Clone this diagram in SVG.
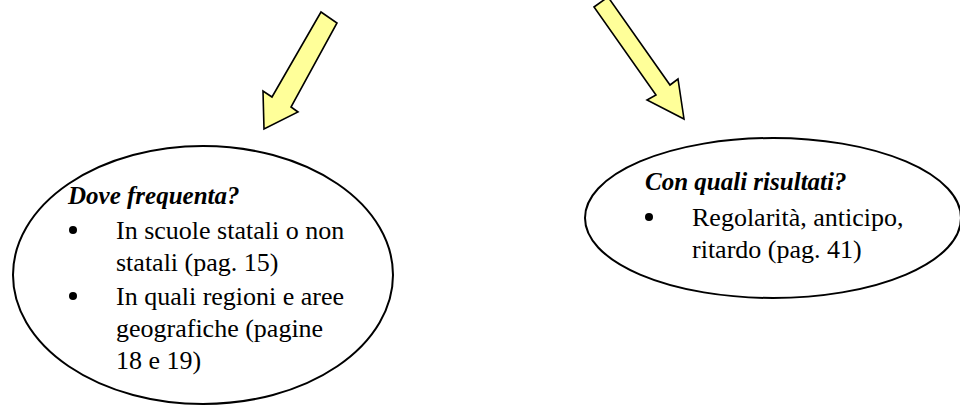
<svg xmlns="http://www.w3.org/2000/svg" width="960" height="406" viewBox="0 0 960 406">
<style>
.arrow{fill:#FFFF99;stroke:#000;stroke-width:1.6;stroke-linejoin:miter}
.oval{fill:none;stroke:#000;stroke-width:2}
.b{fill:#000}
</style>
<rect width="960" height="406" fill="#fff"/>
<g id="connectors">
<polygon class="arrow" points="321,12 337,23 291,107 298,112 264,129 263,91 272,97"/>
<polygon class="arrow" points="594,7 608,-3 670,85 678,79 684,119 647,100 656,95"/>
</g>
<g id="node-dove" font-family="Liberation Serif, DejaVu Serif, serif" fill="#000">
<ellipse class="oval" cx="203" cy="275" rx="190" ry="129"/>
<text x="68" y="204" font-size="25" font-weight="bold" font-style="italic">Dove frequenta?</text>
<circle class="b" cx="73" cy="230" r="4"/>
<text x="116" y="239" font-size="26">In scuole statali o non</text>
<text x="116" y="271" font-size="26">statali (pag. 15)</text>
<circle class="b" cx="73" cy="296" r="4"/>
<text x="116" y="305" font-size="26">In quali regioni e aree</text>
<text x="116" y="337" font-size="26">geografiche (pagine</text>
<text x="116" y="369" font-size="26">18 e 19)</text>
</g>
<g id="node-risultati" font-family="Liberation Serif, DejaVu Serif, serif" fill="#000">
<ellipse class="oval" cx="773" cy="218" rx="188" ry="80"/>
<text x="645" y="190" font-size="25" font-weight="bold" font-style="italic">Con quali risultati?</text>
<circle class="b" cx="649" cy="217" r="4"/>
<text x="692" y="226" font-size="26">Regolarità, anticipo,</text>
<text x="692" y="258" font-size="26">ritardo (pag. 41)</text>
</g>
</svg>
